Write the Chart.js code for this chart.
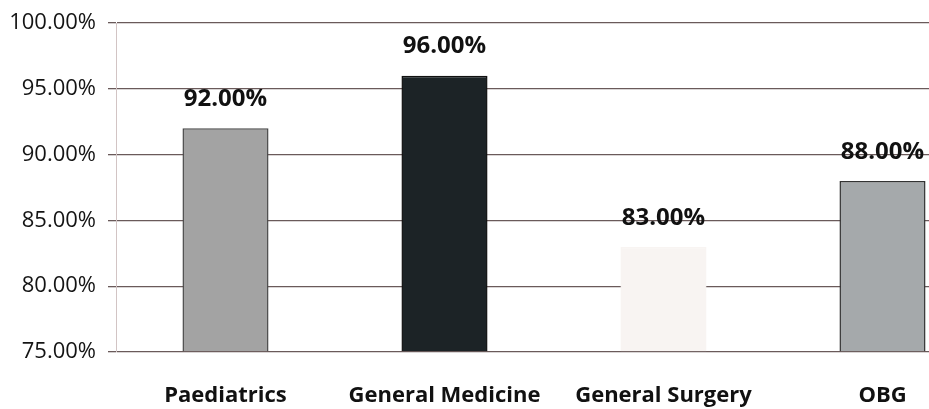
<!DOCTYPE html>
<html>
<head>
<meta charset="utf-8">
<script src="https://cdn.jsdelivr.net/npm/chart.js@4/dist/chart.umd.min.js"></script>
<style>
html,body{margin:0;padding:0;background:#fff;overflow:hidden;}
#wrap{width:995px;height:409px;}
</style>
</head>
<body>
<div id="wrap"><canvas id="c" width="995" height="409"></canvas></div>
<script>
const categories = ["Paediatrics", "General Medicine", "General Surgery", "OBG"];
const values = [92, 96, 83, 88];
const barColors = ["#a3a3a3", "#1c2326", "#f8f4f2", "#a5a9ab"];
const borderColors = ["#4a4a4a", "#111111", "#f8f4f2", "#333333"];
const yMin = 75, yMax = 100, yStep = 5;

const valueLabels = {
  id: 'valueLabels',
  afterDatasetsDraw(chart) {
    const ctx = chart.ctx;
    const meta = chart.getDatasetMeta(0);
    ctx.save();
    ctx.font = 'bold 24px "Open Sans"';
    ctx.fillStyle = '#111';
    ctx.textAlign = 'center';
    ctx.textBaseline = 'middle';
    meta.data.forEach((bar, i) => {
      ctx.fillText(values[i].toFixed(2) + '%', bar.x, bar.y - 29);
    });
    ctx.restore();
  }
};

new Chart(document.getElementById('c'), {
  type: 'bar',
  data: {
    labels: categories,
    datasets: [{
      data: values,
      backgroundColor: barColors,
      borderColor: borderColors,
      borderWidth: 1.5,
      barPercentage: 0.393,
      categoryPercentage: 1.0,
      base: yMin
    }]
  },
  options: {
    responsive: false,
    animation: false,
    layout: { padding: { top: 21, right: 3, left: 0, bottom: 0 } },
    plugins: { legend: { display: false }, tooltip: { enabled: false } },
    scales: {
      x: {
        grid: { display: false, drawTicks: false },
        border: { display: false },
        ticks: {
          color: '#111',
          font: { family: '"Open Sans"', size: 22, weight: 'bold' },
          padding: 31
        },
        afterFit(scale) { scale.height = 57; }
      },
      y: {
        min: yMin, max: yMax,
        grid: { color: '#6a5a5a', lineWidth: 1.3, tickLength: 8 },
        border: { display: true, color: '#d2c4c4', width: 1 },
        ticks: {
          stepSize: yStep,
          color: '#141414',
          font: { family: '"Open Sans"', size: 22, lineHeight: 1 },
          padding: 12,
          callback: v => v.toFixed(2) + '%'
        },
        afterFit(scale) { scale.width = 116; }
      }
    }
  },
  plugins: [valueLabels]
});
</script>
</body>
</html>
